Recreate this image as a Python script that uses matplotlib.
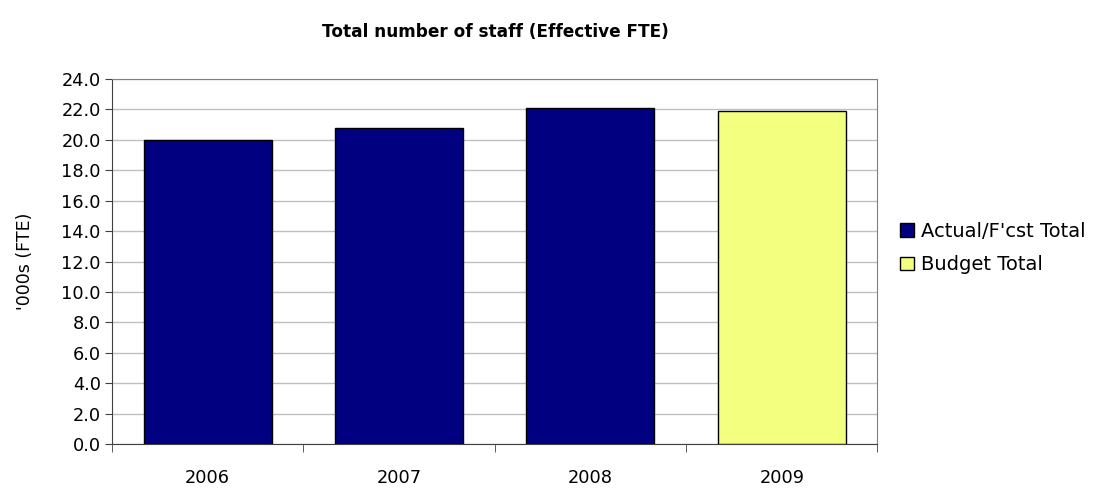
import matplotlib.pyplot as plt
import numpy as np
from matplotlib.patches import Patch

years = ["2006", "2007", "2008", "2009"]
staff = [20.0, 20.8, 22.1, 21.9]
is_budget = [False, False, False, True]

ACTUAL_COLOR = "#000080"
BUDGET_COLOR = "#F2FF7F"

plt.rcParams["font.family"] = ["DejaVu Sans"]

fig = plt.figure(figsize=(11.03, 4.94), dpi=100)
ax = fig.add_axes([0.1015, 0.101, 0.694, 0.739])

x = np.arange(len(years))
colors = [BUDGET_COLOR if b else ACTUAL_COLOR for b in is_budget]
ax.bar(x, staff, width=0.67, color=colors, edgecolor="black", lw=1.0, zorder=3)

ax.set_xlim(-0.5, len(years) - 0.5)
ax.set_ylim(0, 24)
ticks = np.arange(0, 24.1, 2)
ax.set_yticks(ticks)
ax.set_yticklabels([f"{v:.1f}" for v in ticks], fontsize=12.8)
ax.yaxis.grid(True, color="#c0c0c0", lw=1.0, zorder=0)

# years centred under bars, ticks on the category boundaries
ax.set_xticks(x)
ax.set_xticklabels(years, fontsize=12.8)
ax.tick_params(axis="x", length=0, pad=18)
ax.set_xticks(np.arange(-0.5, len(years)), minor=True)
ax.tick_params(axis="x", which="minor", length=6, color="#404040")
ax.tick_params(axis="y", length=5, color="#404040", pad=3)

for side in ("top", "right"):
    ax.spines[side].set_color("#808080")
for side in ("left", "bottom"):
    ax.spines[side].set_color("#404040")

ax.set_ylabel("'000s (FTE)", fontsize=12.5, labelpad=20)
fig.text(0.449, 0.935, "Total number of staff (Effective FTE)",
         fontsize=12.2, fontweight="bold", ha="center", va="center")

handles = [Patch(facecolor=ACTUAL_COLOR, edgecolor="black", label="Actual/F'cst Total"),
           Patch(facecolor=BUDGET_COLOR, edgecolor="black", label="Budget Total")]
fig.legend(handles=handles, loc="center left", bbox_to_anchor=(0.8, 0.498),
           frameon=False, fontsize=14, handlelength=0.7, handleheight=0.7,
           handletextpad=0.4, labelspacing=0.75)

fig.savefig("out.png", dpi=100)
